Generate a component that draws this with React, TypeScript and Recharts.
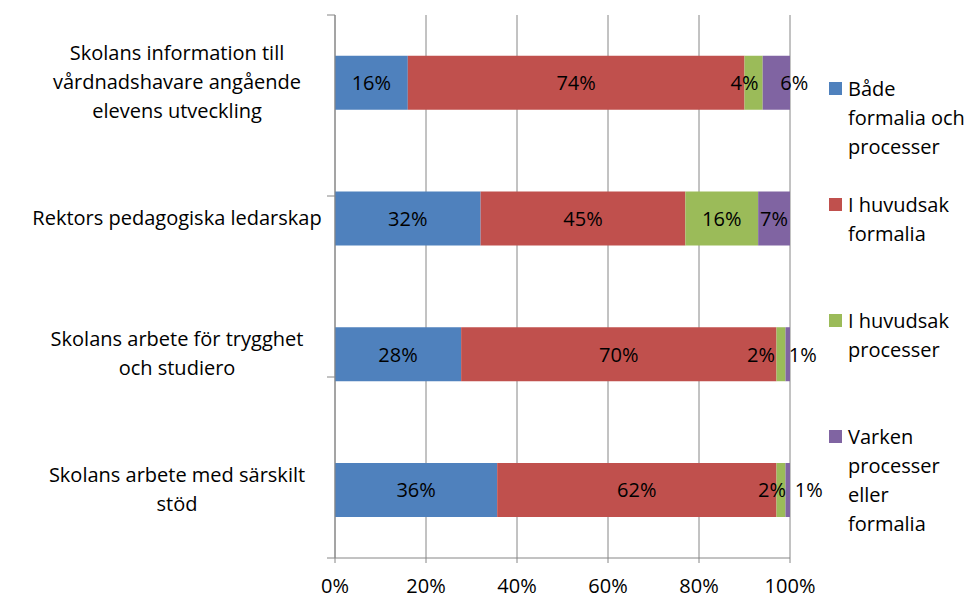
import { Bar, BarChart, CartesianGrid, LabelList, XAxis, YAxis } from "recharts";

const categories = [
  "Skolans information till\nvårdnadshavare angående\nelevens utveckling",
  "Rektors pedagogiska ledarskap",
  "Skolans arbete för trygghet\noch studiero",
  "Skolans arbete med särskilt\nstöd"
];

const seriesNames = [
  "Både\nformalia och\nprocesser",
  "I huvudsak\nformalia",
  "I huvudsak\nprocesser",
  "Varken\nprocesser\neller\nformalia"
];

const bothValues = [16, 32, 28, 36];
const formalValues = [74, 45, 70, 62];
const processValues = [4, 16, 2, 2];
const neitherValues = [6, 7, 1, 1];

const xTicks = [0, 0.2, 0.4, 0.6, 0.8, 1];
const edgeTicks = [0, 1, 2, 3, 4];

const colors = ["#4F81BD", "#C0504D", "#9BBB59", "#8064A2"];
const seriesKeys = ["both", "formal", "process", "neither"];

// Excel pushes the labels of the thin segments apart
const labelNudge: Record<string, number[]> = {
  both: [0, 0, 0, 0],
  formal: [0, 0, 0, 0],
  process: [-9, 0, -20, -9],
  neither: [18, 0, 15, 21]
};

const data = categories.map((name, i) => ({
  name,
  both: bothValues[i],
  formal: formalValues[i],
  process: processValues[i],
  neither: neitherValues[i]
}));

const font = "'Open Sans', sans-serif";
const fontSize = 20;
const gray = "#868686";

function CategoryTick(props: any) {
  const { y, payload } = props;
  const lines = String(payload.value).split("\n");
  const lineH = 29;
  const y0 = y - 1 - ((lines.length - 1) * lineH) / 2;
  return (
    <g>
      {lines.map((line, i) => (
        <text
          key={i}
          x={177}
          y={y0 + i * lineH}
          textAnchor="middle"
          dominantBaseline="central"
          fontSize={fontSize}
          fontFamily={font}
          fill="#000"
        >
          {line}
        </text>
      ))}
    </g>
  );
}

const emptyTick = () => <g />;
const categoryTick = (props: any) => <CategoryTick {...props} />;
const percentFormat = (v: number) => `${Math.round(v * 100)}%`;

function makeLabel(key: string) {
  return (props: any) => {
    const { x, y, width, height, value, index } = props;
    const dx = labelNudge[key][index] || 0;
    return (
      <text
        x={Number(x) + Number(width) / 2 + dx}
        y={Number(y) + Number(height) / 2}
        textAnchor="middle"
        dominantBaseline="central"
        fontSize={fontSize}
        fontFamily={font}
        fill="#000"
      >
        {value}%
      </text>
    );
  };
}

const labelRenderers = seriesKeys.map(makeLabel);

function ChartLegend() {
  return (
    <div style={{ position: "absolute", left: 829, top: 74, fontFamily: font, fontSize }}>
      {seriesNames.map((name, i) => (
        <div key={name} style={{ height: 116, display: "flex", alignItems: "flex-start" }}>
          <div
            style={{
              width: 13,
              height: 13,
              background: colors[i],
              marginTop: 8,
              marginRight: 6,
              flexShrink: 0
            }}
          />
          <div style={{ lineHeight: "29px", whiteSpace: "pre", color: "#000" }}>{name}</div>
        </div>
      ))}
    </div>
  );
}

export default function App() {
  return (
    <div style={{ position: "absolute", left: 0, top: 0, width: 975, height: 599, background: "#fff" }}>
      <BarChart
        width={975}
        height={599}
        data={data}
        layout="vertical"
        stackOffset="expand"
        barCategoryGap="30%"
        margin={{ top: 15, right: 185, left: 0, bottom: 0 }}
      >
        <CartesianGrid horizontal={false} stroke={gray} yAxisId={0} />
        <XAxis
          type="number"
          domain={[0, 1]}
          ticks={xTicks}
          tickFormatter={percentFormat}
          height={41}
          tickSize={5}
          tickMargin={16}
          axisLine={{ stroke: gray }}
          tickLine={{ stroke: gray }}
          tick={{ fill: "#000", fontSize, fontFamily: font }}
          allowDataOverflow
        />
        <YAxis
          yAxisId={0}
          type="category"
          dataKey="name"
          width={335}
          axisLine={false}
          tickLine={false}
          tick={categoryTick}
          interval={0}
        />
        {/* category boundary ticks, drawn outward from the plot edge */}
        <YAxis
          yAxisId={1}
          type="number"
          domain={[0, 4]}
          ticks={edgeTicks}
          mirror
          tickSize={-8}
          axisLine={{ stroke: gray }}
          tickLine={{ stroke: gray }}
          tick={emptyTick}
          allowDataOverflow
        />
        {seriesKeys.map((key, i) => (
          <Bar key={key} dataKey={key} stackId="a" yAxisId={0} fill={colors[i]} isAnimationActive={false}>
            <LabelList dataKey={key} content={labelRenderers[i]} />
          </Bar>
        ))}
      </BarChart>
      <ChartLegend />
    </div>
  );
}
